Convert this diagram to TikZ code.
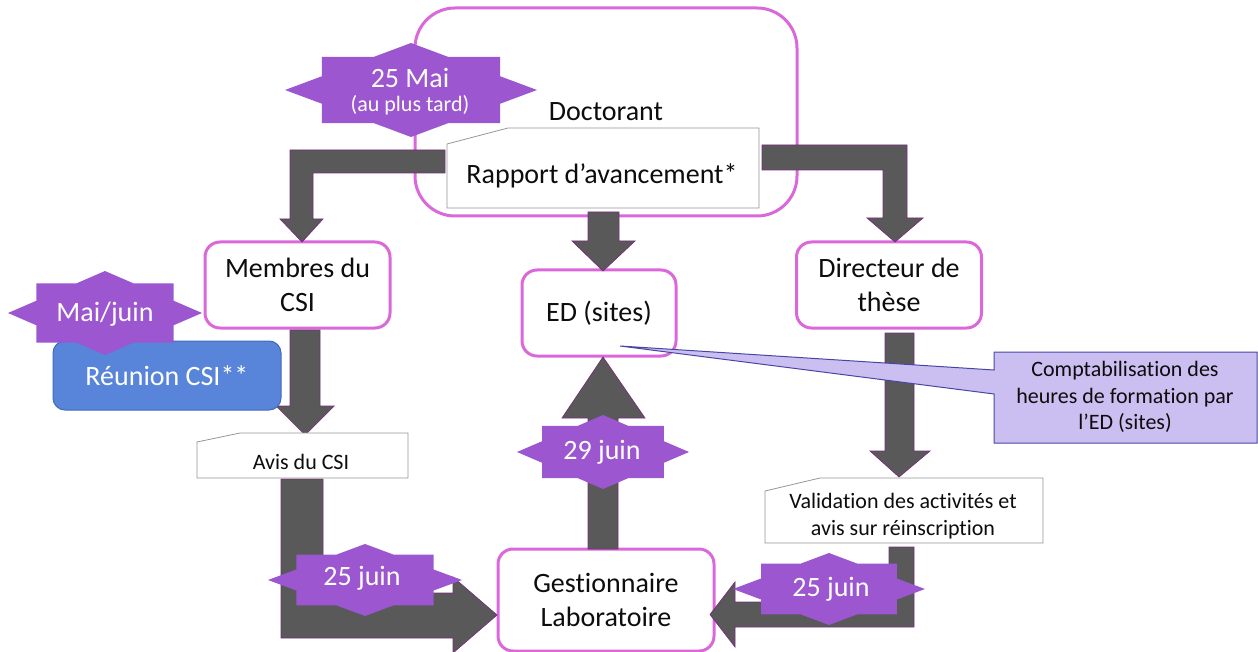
\documentclass[tikz,border=0pt]{standalone}
\usepackage{fontspec}
\setmainfont{Carlito}[Ligatures=NoCommon]
\definecolor{pinkc}{RGB}{218,104,218}
\definecolor{starc}{RGB}{155,86,208}
\definecolor{arrgray}{RGB}{89,89,89}
\definecolor{arrline}{RGB}{120,45,125}
\definecolor{callfill}{RGB}{202,191,240}
\definecolor{callline}{RGB}{72,70,165}
\definecolor{bluefill}{RGB}{88,132,218}
\definecolor{blueline}{RGB}{66,106,190}
\definecolor{docline}{RGB}{150,150,150}
\definecolor{txt}{RGB}{13,13,13}
\newcommand{\octostar}[4]{%
  \fill[starc] ({#1+#3},{#2}) \foreach \a in {0,45,...,315}{ -- ({#1+0.765*#3*cos(\a+22.5)},{#2+0.765*#4*sin(\a+22.5)}) -- ({#1+#3*cos(\a+45)},{#2+#4*sin(\a+45)}) } -- cycle;}
\tikzset{
  big/.style={font=\fontsize{28}{33.6}\selectfont},
  small/.style={font=\fontsize{22}{26.4}\selectfont},
  pbox/.style={draw=pinkc, line width=3, fill=white, rounded corners=15, big, text=txt, align=center, inner sep=0},
  arr/.style={fill=arrgray, draw=arrline, line width=0.7},
  docshape/.style={fill=white, draw=docline, line width=0.8},
  startext/.style={text=white, align=center, inner sep=0},
}
\begin{document}
\begin{tikzpicture}[x=1pt,y=-1pt]
\useasboundingbox (0,0) rectangle (1258,652);
% main boxes
\node[pbox, minimum width=382, minimum height=208, rounded corners=40] (doct) at (606,112) {Doctorant};
\node[pbox, minimum width=185, minimum height=86] (mem) at (297.5,285) {Membres du\\CSI};
\node[pbox, minimum width=154, minimum height=86] (ed) at (599,313) {ED (sites)};
\node[pbox, minimum width=185, minimum height=86] (dir) at (889,285) {Directeur de\\thèse};
\node[pbox, minimum width=216, minimum height=102] (gest) at (606,600) {Gestionnaire\\Laboratoire};
% block arrows
\draw[arr] (445,150) -- (290,150) -- (290,219) -- (280,219) -- (302,242) -- (323,219) -- (313,219) -- (313,173) -- (445,173) -- cycle;
\draw[arr] (762,145) -- (907,145) -- (907,218) -- (923,218) -- (895,242) -- (867,218) -- (883,218) -- (883,170) -- (762,170) -- cycle;
\draw[arr] (588,212) -- (619,212) -- (619,241) -- (635,241) -- (603,271) -- (572,241) -- (588,241) -- cycle;
\draw[arr] (290,330) -- (320,330) -- (320,406) -- (334,406) -- (305,435) -- (276,406) -- (290,406) -- cycle;
\draw[arr] (885,333) -- (914,333) -- (914,451) -- (930,451) -- (899,477) -- (870,451) -- (885,451) -- cycle;
\draw[arr] (588,549) -- (618,549) -- (618,418) -- (645,418) -- (603,357) -- (562,418) -- (588,418) -- cycle;
\draw[arr] (281,479) -- (323,479) -- (323,593) -- (453,593) -- (453,577) -- (497,615) -- (453,653) -- (453,638) -- (281,638) -- cycle;
\draw[arr] (914,547) -- (914,627) -- (735,627) -- (735,647) -- (710,614.5) -- (735,582) -- (735,602) -- (889,602) -- (889,547) -- cycle;
% documents
\draw[docshape] (447,208) -- (447,144) -- (508,128) -- (759,128) -- (759,208) -- cycle;
\node[big, text=txt, inner sep=0] (rap) at (602,176) {Rapport d’avancement*};
\draw[docshape] (197,478) -- (197,442) -- (240,433) -- (408,433) -- (408,478) -- cycle;
\node[small, text=txt, inner sep=0] (avis) at (301,462) {Avis du CSI};
\draw[docshape] (765,543) -- (765,491) -- (820,478) -- (1043,478) -- (1043,543) -- cycle;
\node[small, text=txt, align=center, inner sep=0] (valid) at (903,516) {Validation des activités et\\avis sur réinscription};
% blue box
\node[draw=blueline, fill=bluefill, line width=1, rounded corners=12, minimum width=228, minimum height=69, big, text=white, inner sep=0] (reun) at (167,375.5) {Réunion CSI**};
% stars
\octostar{411}{90}{126}{47}
\node[startext, big] (s1) at (410,78) {25 Mai};
\node[startext, small] (s1b) at (410,105) {(au plus tard)};
\octostar{105}{313}{97}{42}
\node[startext, big] (s2) at (105,314) {Mai/juin};
\octostar{365}{580}{97}{36}
\node[startext, big] (s3) at (362,578) {25 juin};
\octostar{603}{452}{86}{37}
\node[startext, big] (s4) at (602,452) {29 juin};
\octostar{829}{589}{96}{36}
\node[startext, big] (s5) at (831,589) {25 juin};
% callout
\coordinate (tip) at (620,346);
\draw[fill=callfill, draw=callline, line width=1] (994,352) -- (1257,352) -- (1257,443) -- (994,443) -- (994,394) -- (tip) -- (994,370) -- cycle;
\node[small, text=txt, align=center, inner sep=0] (call) at (1125,397) {Comptabilisation des\\heures de formation par\\l’ED (sites)};
\end{tikzpicture}
\end{document}
